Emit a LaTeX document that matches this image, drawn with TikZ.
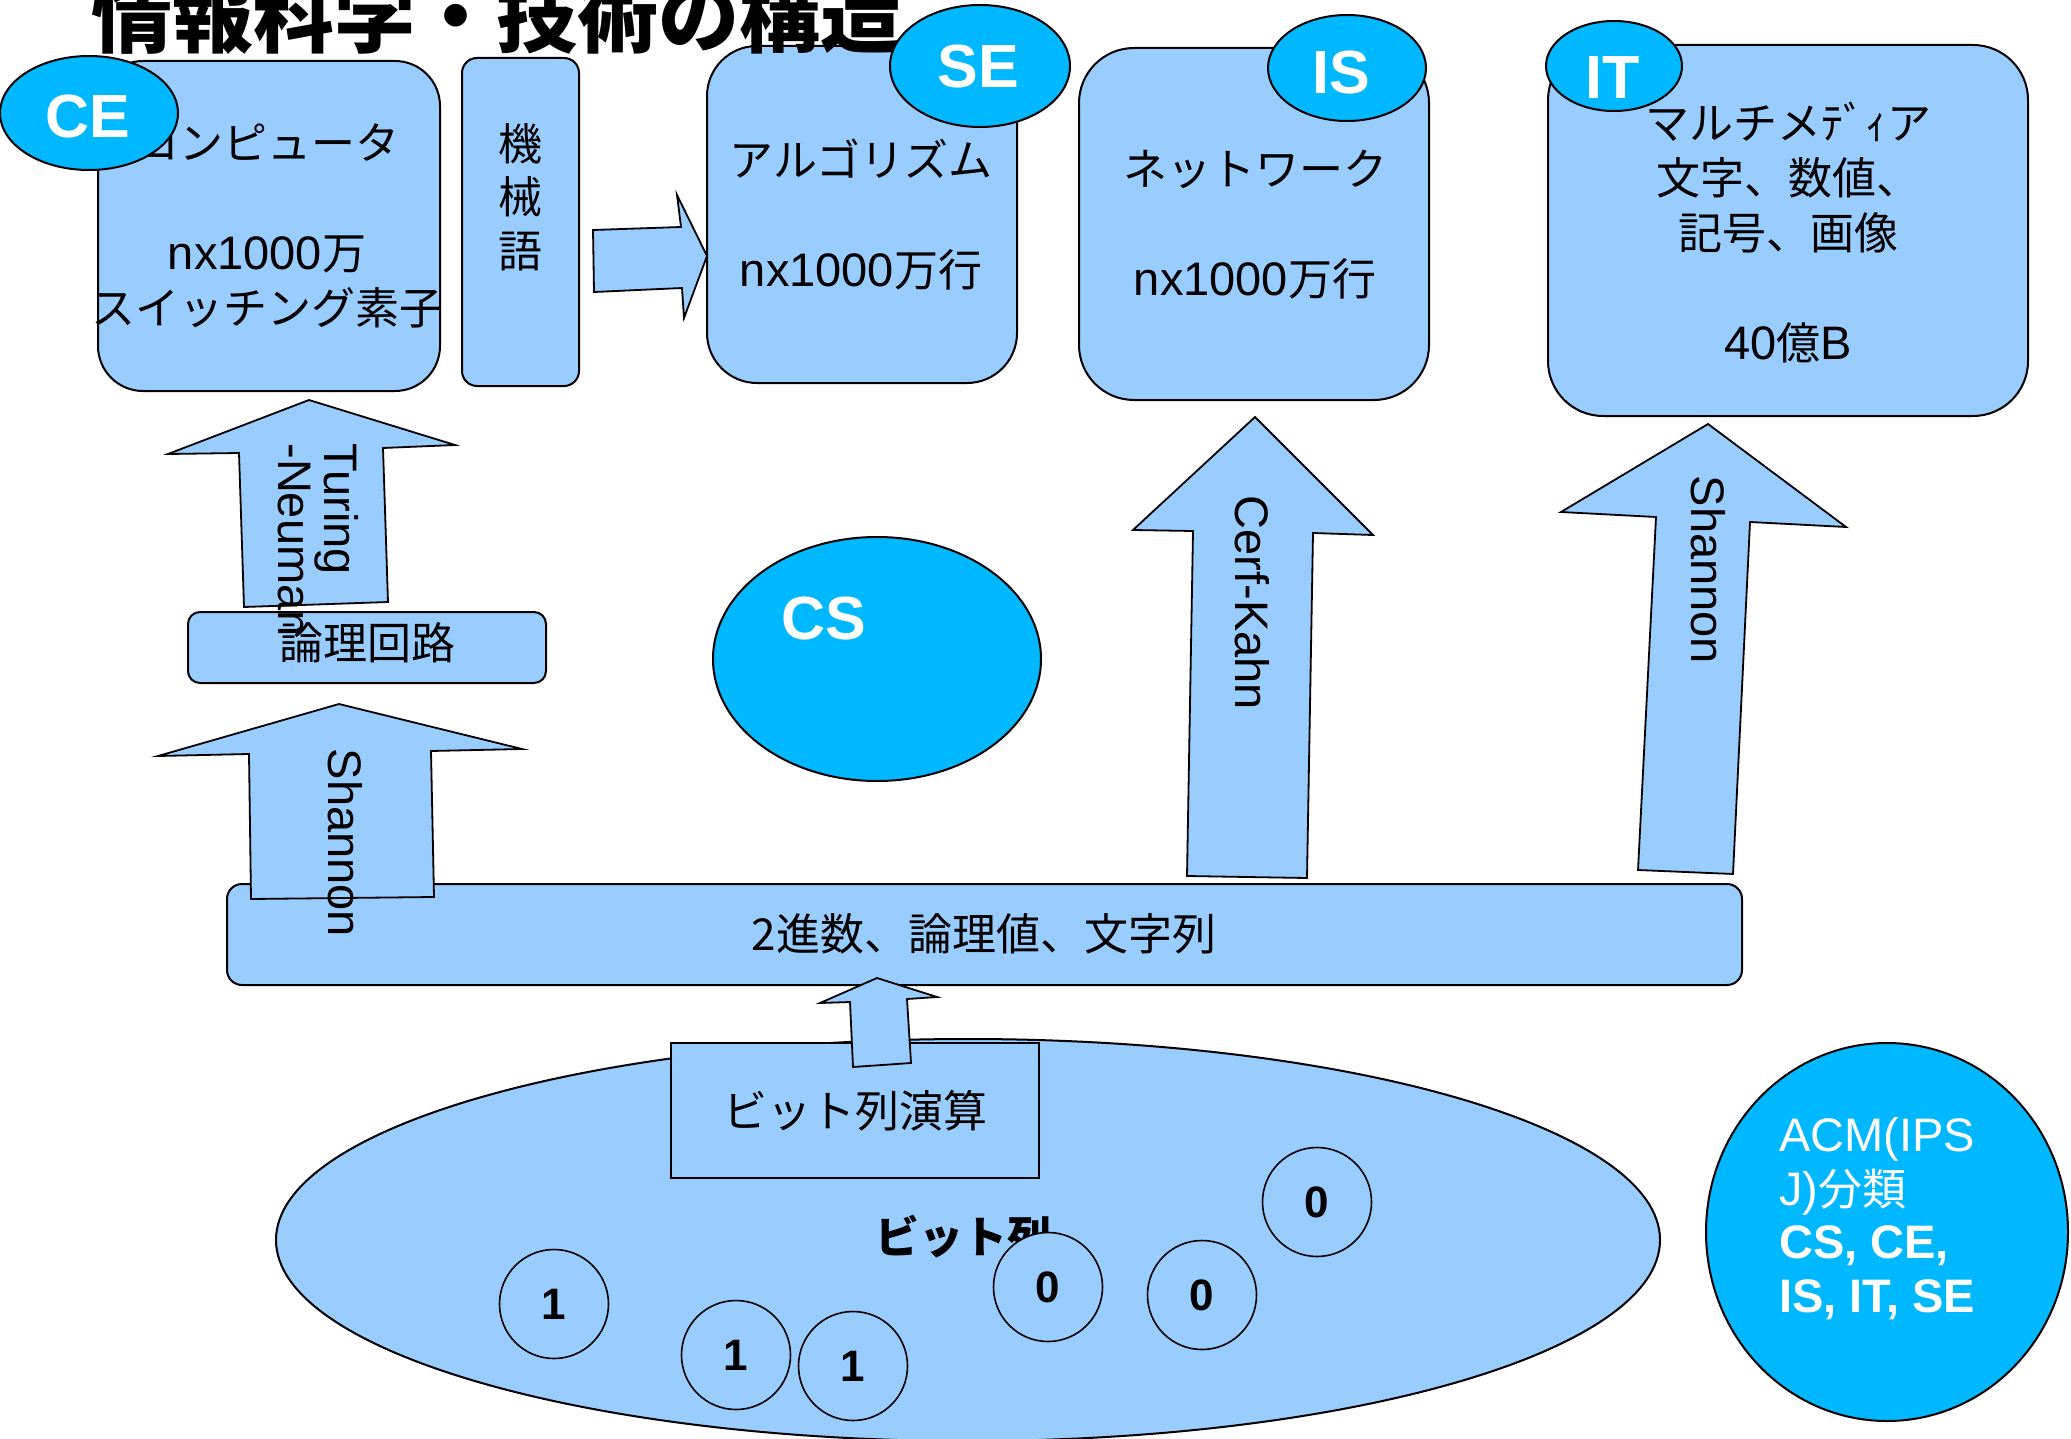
\documentclass[tikz,border=0pt]{standalone}
\usepackage{fontspec}
\setmainfont{Liberation Sans}
\newfontfamily\cjk{Noto Sans CJK JP}
\usetikzlibrary{shapes.geometric}
\definecolor{lblue}{HTML}{99CCFF}
\definecolor{cyanc}{HTML}{00B8FF}
\newcommand\jtx[1]{{\cjk\fontsize{44}{55}\selectfont #1}}
\tikzset{
  bluebox/.style={draw=black, fill=lblue, line width=2pt, inner sep=0pt},
  badge/.style={ellipse, draw=black, fill=cyanc, line width=2pt, inner sep=0pt},
  badgetext/.style={inner sep=0pt, text=white, font=\fontsize{61}{61}\selectfont\bfseries},
  blockarrow/.style={draw=black, fill=lblue, line width=1.8pt, line join=miter},
  jtext/.style={inner sep=0pt, align=center, font=\fontsize{47}{55}\selectfont},
  rottext/.style={inner sep=0pt, rotate=-90, font=\fontsize{47}{46}\selectfont},
  digit/.style={circle, draw=black, fill=lblue, line width=1.6pt, minimum size=109pt, inner sep=0pt, font=\fontsize{44}{44}\selectfont\bfseries},
  acmtext/.style={inner sep=0pt, anchor=base west, text=white, font=\fontsize{47}{47}\selectfont},
}
\begin{document}
\begin{tikzpicture}[x=1pt,y=-1pt]
\path[use as bounding box] (0,0) rectangle (2071,1439);

% ---- top row boxes
\node[bluebox, rounded corners=45pt, minimum width=342pt, minimum height=330pt] (ce) at (269,226) {};
\node[jtext] (cetxt) at (267,226) {\jtx{コンピュータ}\\\mbox{}\\nx1000\jtx{万}\\\jtx{スイッチング素子}};

\node[bluebox, rounded corners=15pt, minimum width=117pt, minimum height=328pt] (kikai) at (520.5,222) {};
\node[inner sep=0pt, align=center, font=\cjk\fontsize{44}{53.5}\selectfont] (kikaitxt) at (kikai) {機\\械\\語\\\mbox{}};

\draw[blockarrow] (593,230) -- (681,227) -- (677,195) -- (707,256) -- (684,318) -- (682,288) -- (594,292) -- cycle;

\node[bluebox, rounded corners=50pt, minimum width=310pt, minimum height=337pt] (se) at (862,214.5) {};
\node[jtext] (setxt) at (861,215) {\jtx{アルゴリズム}\\\mbox{}\\nx1000\jtx{万行}};

\node[bluebox, rounded corners=55pt, minimum width=350pt, minimum height=352pt] (is) at (1254,224) {};
\node[jtext] (istxt) at (1255,225) {\jtx{ネットワーク}\\\mbox{}\\nx1000\jtx{万行}};

\node[bluebox, rounded corners=55pt, minimum width=480pt, minimum height=371pt] (it) at (1788,230.5) {};
\node[jtext] (ittxt) at (1788,232) {\jtx{マルチメﾃﾞｨア}\\\jtx{文字、数値、}\\\jtx{記号、画像}\\\mbox{}\\40\jtx{億}B};

% title
\node[anchor=base west, inner sep=0pt, font=\cjk\bfseries\fontsize{81}{81}\selectfont] (title) at (91,47) {情報科学・技術の構造};

% badges
\node[badge, minimum width=178pt, minimum height=114pt] (ceb) at (89,113) {};
\node[badgetext] (cebt) at (88,117) {CE};
\node[badge, minimum width=180pt, minimum height=122pt] (seb) at (980,66) {};
\node[badgetext] (sebt) at (978,67) {SE};
\node[badge, minimum width=158pt, minimum height=106pt] (isb) at (1347,68) {};
\node[badgetext] (isbt) at (1341,73) {IS};
\node[badge, minimum width=136pt, minimum height=90pt] (itb) at (1614,66) {};
\node[badgetext] (itbt) at (1613,78) {IT};

% Turing-Neuman arrow and logic circuits
\draw[blockarrow] (309,400) -- (455,445) -- (383,448) -- (388,602) -- (244,607) -- (239,453) -- (168,454) -- cycle;
\node[bluebox, rounded corners=12pt, minimum width=358pt, minimum height=71pt] (logic) at (367,647.5) {};
\node[inner sep=0pt, font=\cjk\fontsize{44}{44}\selectfont] (logictxt) at (367,643) {論理回路};
\node[rottext, align=left] (turing) at (318,540) {Turing\\-Neuman};

% CS
\node[badge, minimum width=328pt, minimum height=244pt] (cs) at (877,659) {};
\node[badgetext] (cst) at (824,618) {CS};

% binary box
\node[bluebox, rounded corners=15pt, minimum width=1515pt, minimum height=101pt] (bin) at (984.5,934.5) {};
\node[inner sep=0pt, font=\cjk\fontsize{44}{44}\selectfont] (bintxt) at (984,934) {2進数、論理値、文字列};

% Shannon (left)
\draw[blockarrow] (339,704) -- (522,749) -- (431,751) -- (434,897) -- (251,899) -- (249,754) -- (158,756) -- cycle;
\node[rottext] (shl) at (345,843) {Shannon};

% Cerf-Kahn
\draw[blockarrow] (1255,417) -- (1373,535) -- (1313,533) -- (1307,878) -- (1187,876) -- (1193,531) -- (1133,530) -- cycle;
\node[rottext] (cerf) at (1252,603) {Cerf-Kahn};

% Shannon (right)
\draw[blockarrow] (1708,424) -- (1846,527) -- (1750,522) -- (1733,874) -- (1638,870) -- (1656,517) -- (1561,512) -- cycle;
\node[rottext] (shr) at (1708,570) {Shannon};

% bit strings
\node[ellipse, draw=black, fill=lblue, line width=2pt, inner sep=0pt, minimum width=1384pt, minimum height=402pt] (bits) at (968,1240) {};
\node[draw=black, fill=lblue, line width=2pt, inner sep=0pt, minimum width=368pt, minimum height=135pt] (bitop) at (855,1110.5) {};
\node[inner sep=0pt, font=\cjk\fontsize{44}{44}\selectfont] (bitoptxt) at (bitop) {ビット列演算};
\draw[blockarrow] (877,978) -- (937,997) -- (907,999) -- (911,1063) -- (853,1067) -- (850,1002) -- (820,1003) -- cycle;
\node[inner sep=0pt, font=\cjk\bfseries\fontsize{44}{44}\selectfont] (bitstxt) at (963,1237) {ビット列};

\node[digit] (d1) at (554,1304) {1};
\node[digit] (d2) at (736,1355) {1};
\node[digit] (d3) at (853,1366) {1};
\node[digit] (d4) at (1048,1287) {0};
\node[digit] (d5) at (1202,1295) {0};
\node[digit] (d6) at (1317,1202) {0};

% ACM
\node[ellipse, draw=black, fill=cyanc, line width=2pt, inner sep=0pt, minimum width=362pt, minimum height=378pt] (acm) at (1887,1232) {};
\node[acmtext] (acm1) at (1779,1151) {ACM(IPS};
\node[acmtext] (acm2) at (1779,1205) {J)\jtx{分類}};
\node[acmtext, font=\fontsize{47}{47}\selectfont\bfseries] (acm3) at (1779,1258) {CS, CE,};
\node[acmtext, font=\fontsize{47}{47}\selectfont\bfseries] (acm4) at (1779,1312) {IS, IT, SE};
\end{tikzpicture}
\end{document}
